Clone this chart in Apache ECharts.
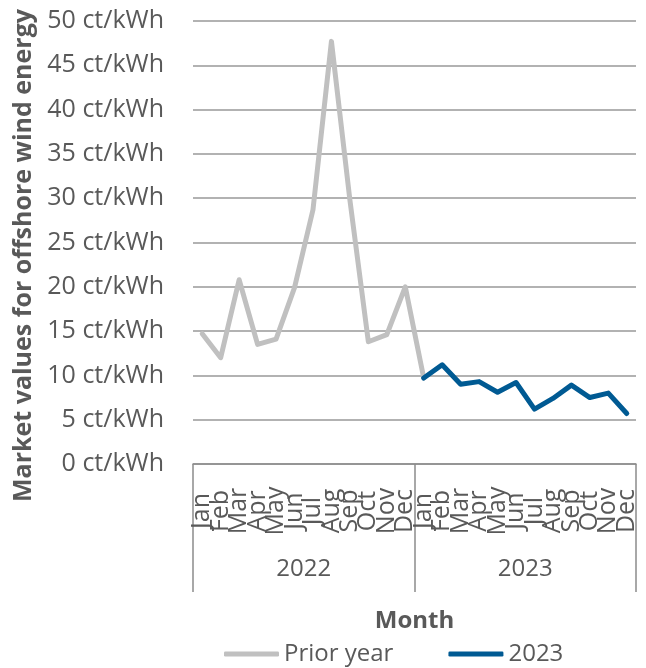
<!DOCTYPE html>
<html>
<head>
<meta charset="utf-8">
<script src="https://cdn.jsdelivr.net/npm/echarts@6/dist/echarts.min.js"></script>
<style>
  html, body { margin: 0; padding: 0; background: #fff; }
  #chart { width: 646px; height: 668px; }
</style>
</head>
<body>
<div id="chart"></div>
<script>
// Monthly market values for offshore wind energy (ct/kWh)
const months = ['Jan','Feb','Mar','Apr','May','Jun','Jul','Aug','Sep','Oct','Nov','Dec'];
const years = ['2022', '2023'];
const values2022 = [14.7, 12.0, 20.8, 13.5, 14.1, 19.9, 28.7, 47.7, 29.8, 13.8, 14.6, 20.0];
const values2023 = [9.7, 11.2, 9.0, 9.3, 8.1, 9.2, 6.2, 7.4, 8.9, 7.5, 8.0, 5.7];
const yTicks = { min: 0, max: 50, step: 5, unit: 'ct/kWh' };

// 24 consecutive month categories across both years
const categories = years.flatMap(y => months.map(m => m + ' ' + y));

// Prior-year line runs into January of the current year
const priorSeries = categories.map((_, i) =>
  i < 12 ? values2022[i] : (i === 12 ? values2023[0] : null));
const currentSeries = categories.map((_, i) => i >= 12 ? values2023[i - 12] : null);

const textColor = '#595959';
const font = 'Open Sans';

const chart = echarts.init(document.getElementById('chart'));
chart.setOption({
  animation: false,
  textStyle: { fontFamily: font },
  grid: {
    left: 193, right: 10, top: 21, bottom: 204,
    containLabel: false, outerBoundsMode: 'none'
  },
  legend: {
    left: 219, top: 637,
    icon: 'roundRect', itemWidth: 55, itemHeight: 5, itemGap: 55,
    textStyle: { fontSize: 24, color: textColor, fontFamily: font, padding: [0, 0, 0, 0] },
    data: ['Prior year', '2023']
  },
  xAxis: [
    {
      type: 'category',
      data: categories,
      boundaryGap: true,
      axisLine: { show: true, lineStyle: { color: '#8c8c8c', width: 1.5 } },
      axisTick: { show: false },
      axisLabel: {
        interval: 0, rotate: 90, margin: 47,
        align: 'center', verticalAlign: 'middle',
        fontSize: 25, color: textColor, fontFamily: font,
        formatter: v => v.split(' ')[0]
      },
      name: 'Month', nameLocation: 'middle', nameGap: 145,
      nameTextStyle: { fontSize: 24, fontWeight: 'bold', color: textColor, fontFamily: font }
    },
    {
      type: 'category',
      data: years,
      position: 'bottom',
      boundaryGap: true,
      axisLine: { show: false },
      axisTick: { show: true, length: 128, lineStyle: { color: '#8c8c8c', width: 1.5 } },
      axisLabel: { margin: 93, fontSize: 24, color: textColor, fontFamily: font }
    }
  ],
  yAxis: {
    type: 'value',
    min: yTicks.min, max: yTicks.max, interval: yTicks.step,
    axisLine: { show: false }, axisTick: { show: false },
    splitLine: { lineStyle: { color: '#999999', width: 1.5 } },
    axisLabel: {
      margin: 29, fontSize: 25, color: textColor, fontFamily: font,
      formatter: v => v + ' ' + yTicks.unit
    },
    name: 'Market values for offshore wind energy',
    nameLocation: 'middle', nameGap: 156,
    nameTextStyle: {
      fontSize: 25, fontWeight: 'bold', color: textColor, fontFamily: font,
      padding: [0, 26, 0, 0]
    }
  },
  series: [
    {
      name: 'Prior year', type: 'line', data: priorSeries,
      xAxisIndex: 0, symbol: 'none', connectNulls: false,
      itemStyle: { color: '#c0c0c0' },
      lineStyle: { color: '#c0c0c0', width: 5, cap: 'round', join: 'round' }
    },
    {
      name: '2023', type: 'line', data: currentSeries,
      xAxisIndex: 0, symbol: 'none',
      itemStyle: { color: '#005a93' },
      lineStyle: { color: '#005a93', width: 5, cap: 'round', join: 'round' }
    }
  ]
});
</script>
</body>
</html>
